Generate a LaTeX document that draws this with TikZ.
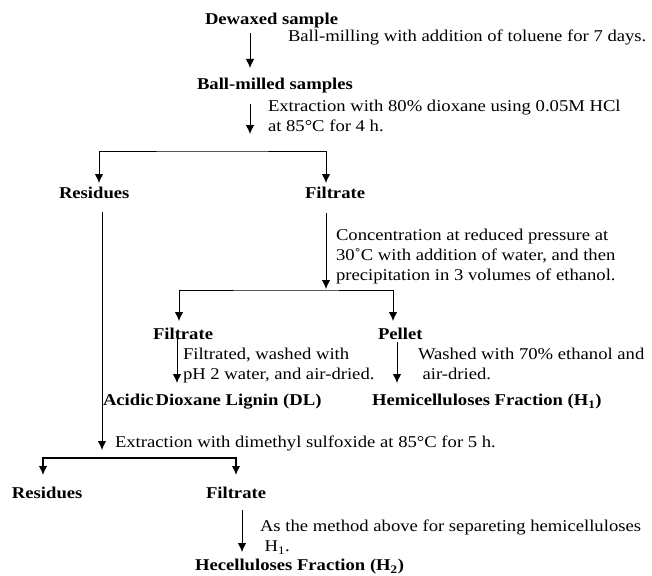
\documentclass[tikz,border=0pt]{standalone}
\usepackage{fontspec}
\setmainfont[FakeStretch=1.13]{Liberation Serif}
\usetikzlibrary{arrows.meta}
\newcommand{\fsz}{\fontsize{16.5}{20}\selectfont}
\begin{document}
\begin{tikzpicture}[x=1pt,y=-1pt,
  txt/.style={anchor=north west, inner sep=0pt, outer sep=0pt, align=left, font=\fsz},
  bld/.style={txt, font=\fsz\bfseries},
  ln/.style={line width=0.9pt},
  arr/.style={line width=0.9pt, -{Latex[length=9pt,width=8.5pt]}},
  darr/.style={line width=0.9pt, {Latex[length=9pt,width=8.5pt]}-{Latex[length=9pt,width=8.5pt]}}]
\useasboundingbox (0,0) rectangle (652,575);
% texts
\node[bld] (dew) at (205,13) {Dewaxed sample};
\node[txt] (lab1) at (288,30) {Ball-milling with addition of toluene for 7 days.};
\node[bld] (bms) at (197,78) {Ball-milled samples};
\node[txt] (lab2) at (268,100) {Extraction with 80\% dioxane using 0.05M HCl\\at 85°C for 4 h.};
\node[bld] (res1) at (59,187) {Residues};
\node[bld] (fil1) at (305,187) {Filtrate};
\node[txt] (lab3) at (336,229) {Concentration at reduced pressure at\\30˚C with addition of water, and then\\precipitation in 3 volumes of ethanol.};
\node[bld] (fil2) at (153,328) {Filtrate};
\node[bld] (pel) at (378,328) {Pellet};
\node[txt] (lab4) at (183,348) {Filtrated, washed with\\pH 2 water, and air-dried.};
\node[txt] (lab5) at (418,348) {Washed with 70\% ethanol and\\\ air-dried.};
\node[bld] (adl) at (103,394) {Acidic\hspace{2pt}Dioxane Lignin (DL)};
\node[bld] (hem1) at (372,394) {Hemicelluloses Fraction (H\textsubscript{1})};
\node[txt] (lab6) at (115,436) {Extraction with dimethyl sulfoxide at 85°C for 5 h.};
\node[bld] (res2) at (12,487) {Residues};
\node[bld] (fil3) at (206,487) {Filtrate};
\node[txt] (lab7) at (260,520) {As the method above for separeting hemicelluloses\\\ H\textsubscript{1}.};
\node[bld] (hec) at (195,559) {Hecelluloses Fraction (H\textsubscript{2})};
% connector coordinates
\coordinate (a1s) at (250,33);   \coordinate (a1e) at (250,68);
\coordinate (a2s) at (250,104);  \coordinate (a2e) at (250,134);
\coordinate (b1l) at (99,183);   \coordinate (b1m) at (212,151);  \coordinate (b1r) at (326,183);
\coordinate (trs) at (102,212);  \coordinate (tre) at (102,450);
\coordinate (f1s) at (326,213);  \coordinate (f1e) at (326,289);
\coordinate (b2l) at (179,321);  \coordinate (b2m) at (286,290);  \coordinate (b2r) at (393,321);
\coordinate (f2s) at (177,337);  \coordinate (f2e) at (177,383);
\coordinate (p1s) at (397,342);  \coordinate (p1e) at (397,383);
\coordinate (b3l) at (43,475);   \coordinate (b3m) at (140,458);  \coordinate (b3r) at (236,475);
\coordinate (f3s) at (242,510);  \coordinate (f3e) at (242,552);
% connectors
\draw[arr] (a1s) -- (a1e);
\draw[arr] (a2s) -- (a2e);
\draw[darr] (b1l) |- (b1m) -| (b1r);
\draw[arr] (trs) -- (tre);
\draw[arr] (f1s) -- (f1e);
\draw[darr] (b2l) |- (b2m) -| (b2r);
\draw[arr] (f2s) -- (f2e);
\draw[arr] (p1s) -- (p1e);
\draw[darr, line width=1.5pt] (b3l) |- (b3m) -| (b3r);
\draw[arr] (f3s) -- (f3e);
\end{tikzpicture}
\end{document}
